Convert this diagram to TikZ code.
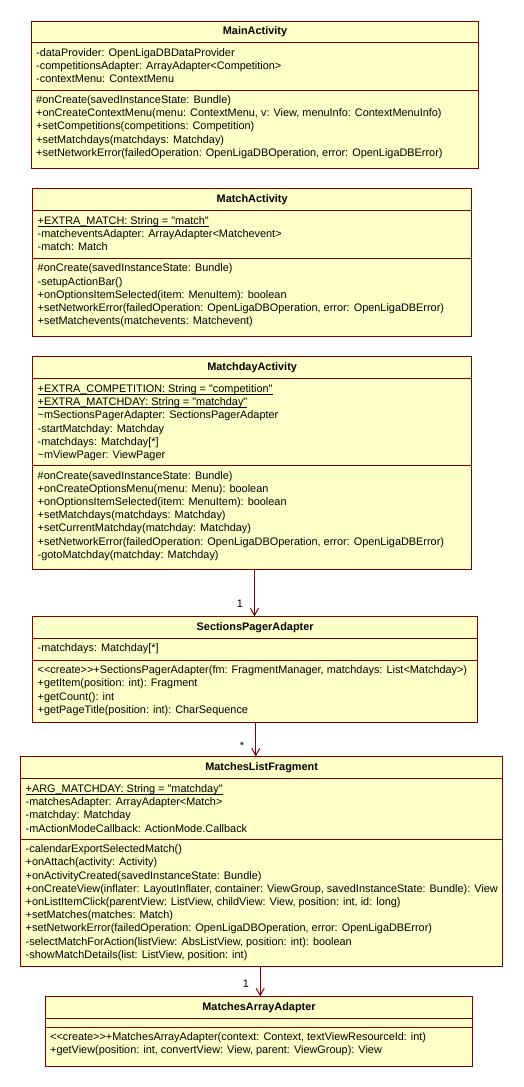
\documentclass[tikz,border=0pt]{standalone}
\usepackage{fontspec}
\setmainfont{Liberation Sans}[Ligatures=TeXOff]
\usepackage{tikz}
\usepackage{xcolor}
\usetikzlibrary{positioning,arrows.meta}
\definecolor{UmlFill}{HTML}{FFFFC8}
\definecolor{UmlBorder}{HTML}{800000}
\newcommand{\umlstatic}[1]{\strut\underline{\smash{#1}}}

\begin{document}
\begin{tikzpicture}[x=1pt, y=1pt,
  classbox/.style={draw=UmlBorder, fill=UmlFill, line width=1pt, inner sep=0pt, anchor=north west},
  classline/.style={draw=UmlBorder, line width=1pt},
  classname/.style={font=\fontsize{10.9}{13.2}\selectfont\bfseries, inner sep=0pt, anchor=base},
  members/.style={font=\fontsize{10.9}{13.2}\selectfont, align=left, inner sep=0pt, anchor=north west},
  assoc/.style={draw=UmlBorder, line width=1pt, -{Straight Barb[length=7pt, width=8pt]}},
  mult/.style={font=\fontsize{10.9}{13.2}\selectfont, inner sep=0pt}]
  \useasboundingbox (0,0) rectangle (524,-1087);

  % MainActivity
  \node[classbox, minimum width=447pt, minimum height=147.6pt] (main) at (31,-20.7) {};
  \draw[classline] (main.west |- 0,-42.7) -- (main.east |- 0,-42.7);
  \draw[classline] (main.west |- 0,-90.3) -- (main.east |- 0,-90.3);
  \node[classname] (mainT) at (main.north |- 0,-34.9) {MainActivity};
  \node[members] (mainA) at (36,-48) {-dataProvider: OpenLigaDBDataProvider\\
    -competitionsAdapter: ArrayAdapter<Competition>\\
    -contextMenu: ContextMenu};
  \node[members] (mainM) at (36,-95.3) {\#onCreate(savedInstanceState: Bundle)\\
    +onCreateContextMenu(menu: ContextMenu, v: View, menuInfo: ContextMenuInfo)\\
    +setCompetitions(competitions: Competition)\\
    +setMatchdays(matchdays: Matchday)\\
    +setNetworkError(failedOperation: OpenLigaDBOperation, error: OpenLigaDBError)};

  % MatchActivity
  \node[classbox, minimum width=438.7pt, minimum height=147.7pt] (match) at (32.3,-188.3) {};
  \draw[classline] (match.west |- 0,-210.3) -- (match.east |- 0,-210.3);
  \draw[classline] (match.west |- 0,-258.7) -- (match.east |- 0,-258.7);
  \node[classname] (matchT) at (match.north |- 0,-202.3) {MatchActivity};
  \node[members] (matchA) at (37.5,-215.1) {\umlstatic{+EXTRA\_MATCH: String = "match"}\\
    -matcheventsAdapter: ArrayAdapter<Matchevent>\\
    -match: Match};
  \node[members] (matchM) at (37.5,-263.8) {\#onCreate(savedInstanceState: Bundle)\\
    -setupActionBar()\\
    +onOptionsItemSelected(item: MenuItem): boolean\\
    +setNetworkError(failedOperation: OpenLigaDBOperation, error: OpenLigaDBError)\\
    +setMatchevents(matchevents: Matchevent)};

  % MatchdayActivity
  \node[classbox, minimum width=438.7pt, minimum height=213pt] (matchday) at (32.3,-356.3) {};
  \draw[classline] (matchday.west |- 0,-378.3) -- (matchday.east |- 0,-378.3);
  \draw[classline] (matchday.west |- 0,-465.7) -- (matchday.east |- 0,-465.7);
  \node[classname] (matchdayT) at (matchday.north |- 0,-370.3) {MatchdayActivity};
  \node[members] (matchdayA) at (37.5,-383.1) {\umlstatic{+EXTRA\_COMPETITION: String = "competition"}\\
    \umlstatic{+EXTRA\_MATCHDAY: String = "matchday"}\\
    \textasciitilde mSectionsPagerAdapter: SectionsPagerAdapter\\
    -startMatchday: Matchday\\
    -matchdays: Matchday[*]\\
    \textasciitilde mViewPager: ViewPager};
  \node[members] (matchdayM) at (37.5,-471) {\#onCreate(savedInstanceState: Bundle)\\
    +onCreateOptionsMenu(menu: Menu): boolean\\
    +onOptionsItemSelected(item: MenuItem): boolean\\
    +setMatchdays(matchdays: Matchday)\\
    +setCurrentMatchday(matchday: Matchday)\\
    +setNetworkError(failedOperation: OpenLigaDBOperation, error: OpenLigaDBError)\\
    -gotoMatchday(matchday: Matchday)};

  % SectionsPagerAdapter
  \node[classbox, minimum width=444.7pt, minimum height=106pt] (pager) at (32.3,-616.3) {};
  \draw[classline] (pager.west |- 0,-638.3) -- (pager.east |- 0,-638.3);
  \draw[classline] (pager.west |- 0,-660.3) -- (pager.east |- 0,-660.3);
  \node[classname] (pagerT) at (pager.north |- 0,-630.3) {SectionsPagerAdapter};
  \node[members] (pagerA) at (37.5,-643.6) {-matchdays: Matchday[*]};
  \node[members] (pagerM) at (37.5,-665.6) {<\kern0pt<create>\kern0pt>+SectionsPagerAdapter(fm: FragmentManager, matchdays: List<Matchday>)\\
    +getItem(position: int): Fragment\\
    +getCount(): int\\
    +getPageTitle(position: int): CharSequence};

  % MatchesListFragment
  \node[classbox, minimum width=481.7pt, minimum height=210pt] (fragment) at (20.3,-756.3) {};
  \draw[classline] (fragment.west |- 0,-778.3) -- (fragment.east |- 0,-778.3);
  \draw[classline] (fragment.west |- 0,-839.3) -- (fragment.east |- 0,-839.3);
  \node[classname] (fragmentT) at (fragment.north |- 0,-770.3) {MatchesListFragment};
  \node[members] (fragmentA) at (25.5,-783.1) {\umlstatic{+ARG\_MATCHDAY: String = "matchday"}\\
    -matchesAdapter: ArrayAdapter<Match>\\
    -matchday: Matchday\\
    -mActionModeCallback: ActionMode.Callback};
  \node[members] (fragmentM) at (25.5,-844.6) {-calendarExportSelectedMatch()\\
    +onAttach(activity: Activity)\\
    +onActivityCreated(savedInstanceState: Bundle)\\
    +onCreateView(inflater: LayoutInflater, container: ViewGroup, savedInstanceState: Bundle): View\\
    +onListItemClick(parentView: ListView, childView: View, position: int, id: long)\\
    +setMatches(matches: Match)\\
    +setNetworkError(failedOperation: OpenLigaDBOperation, error: OpenLigaDBError)\\
    -selectMatchForAction(listView: AbsListView, position: int): boolean\\
    -showMatchDetails(list: ListView, position: int)};

  % MatchesArrayAdapter
  \node[classbox, minimum width=427.6pt, minimum height=69.7pt] (adapter) at (44.7,-996.3) {};
  \draw[classline] (adapter.west |- 0,-1018.3) -- (adapter.east |- 0,-1018.3);
  \draw[classline] (adapter.west |- 0,-1027.3) -- (adapter.east |- 0,-1027.3);
  \node[classname] (adapterT) at (adapter.north |- 0,-1010.3) {MatchesArrayAdapter};
  \node[members] (adapterM) at (50,-1032.6) {<\kern0pt<create>\kern0pt>+MatchesArrayAdapter(context: Context, textViewResourceId: int)\\
    +getView(position: int, convertView: View, parent: ViewGroup): View};

  % Associations
  \draw[assoc] ([xshift=2.35pt]matchday.south) -- ([xshift=2.35pt]matchday.south |- pager.north);
  \node[mult] (m1) at (240,-604) {1};
  \draw[assoc] ([xshift=0.65pt]pager.south) -- ([xshift=0.65pt]pager.south |- fragment.north);
  \node[mult] (m2) at (242,-746) {*};
  \draw[assoc] ([xshift=-1.45pt]fragment.south) -- ([xshift=-1.45pt]fragment.south |- adapter.north);
  \node[mult] (m3) at (246,-984) {1};
\end{tikzpicture}
\end{document}
